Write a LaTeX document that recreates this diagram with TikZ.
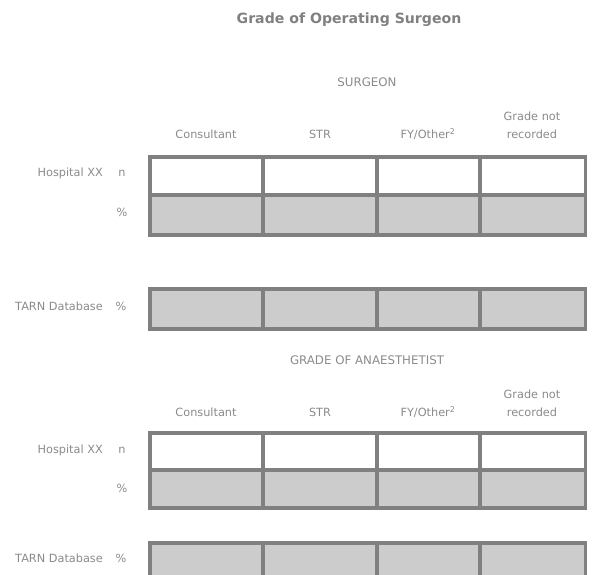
\documentclass[tikz,border=0pt]{standalone}
\usepackage{fontspec}
\setmainfont{DejaVu Sans}
\definecolor{rule}{HTML}{808080}
\definecolor{cellfill}{HTML}{CCCCCC}
\definecolor{txt}{HTML}{8A8A8A}
\begin{document}
\begin{tikzpicture}[x=1pt,y=-1pt,
  lab/.style={text=txt,font=\fontsize{11.3}{13}\selectfont,inner sep=0pt},
  rowlab/.style={lab,anchor=east},
  head/.style={text=txt,font=\fontsize{11.3}{18}\selectfont,inner sep=0pt,align=center},
  section/.style={text=txt,font=\fontsize{11.8}{13}\selectfont,inner sep=0pt},
  titletext/.style={text=rule,font=\bfseries\fontsize{14.1}{16}\selectfont,inner sep=0pt},
  gridline/.style={draw=rule,line width=3.6pt}]
\useasboundingbox (0,0) rectangle (592,574);
\clip (0,0) rectangle (592,574);

% column edges
\def\xa{150}\def\xb{263}\def\xc{377}\def\xd{480}\def\xe{585.5}

\node[titletext] (title) at (349,20) {Grade of Operating Surgeon};

% ---------- surgeon block ----------
\node[section] (sec1) at (367,82) {SURGEON};
\node[head] (h1a) at (206,134) {Consultant};
\node[head] (h1b) at (320,134) {STR};
\node[head] (h1c) at (428,134) {FY/Other\textsuperscript{2}};
\node[head] (h1d) at (532,125) {Grade not\\recorded};

\node[rowlab] (hosp1) at (103,173) {Hospital XX};
\node[lab] (n1) at (122,173) {n};
\node[lab] (p1) at (122,212) {\%};
\node[rowlab] (tarn1) at (103,306) {TARN Database};
\node[lab] (pt1) at (121,306) {\%};

\foreach \l/\r in {\xa/\xb,\xb/\xc,\xc/\xd,\xd/\xe}{
  \draw[gridline,fill=white] (\l,157) rectangle (\r,195);
  \draw[gridline,fill=cellfill] (\l,195) rectangle (\r,235);
  \draw[gridline,fill=cellfill] (\l,289) rectangle (\r,329);
}

% ---------- anaesthetist block ----------
\node[section] (sec2) at (367,360) {GRADE OF ANAESTHETIST};
\node[head] (h2a) at (206,412) {Consultant};
\node[head] (h2b) at (320,412) {STR};
\node[head] (h2c) at (428,412) {FY/Other\textsuperscript{2}};
\node[head] (h2d) at (532,403) {Grade not\\recorded};

\node[rowlab] (hosp2) at (103,450) {Hospital XX};
\node[lab] (n2) at (122,450) {n};
\node[lab] (p2) at (122,488) {\%};
\node[rowlab] (tarn2) at (103,558) {TARN Database};
\node[lab] (pt2) at (121,558) {\%};

\foreach \l/\r in {\xa/\xb,\xb/\xc,\xc/\xd,\xd/\xe}{
  \draw[gridline,fill=white] (\l,433) rectangle (\r,470);
  \draw[gridline,fill=cellfill] (\l,470) rectangle (\r,508);
  \draw[gridline,fill=cellfill] (\l,543) rectangle (\r,585);
}
\end{tikzpicture}
\end{document}
